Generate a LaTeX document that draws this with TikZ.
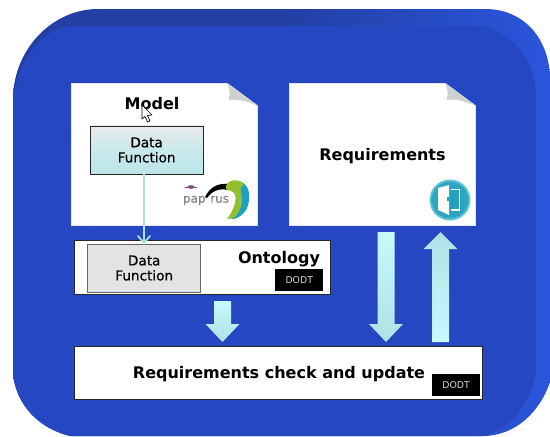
\documentclass[tikz,border=0pt]{standalone}
\usepackage{fontspec}
\setmainfont{DejaVu Sans}
\newfontfamily\semibold[FakeBold=0.5]{DejaVu Sans}
\usetikzlibrary{calc}
\definecolor{facecol}{HTML}{2647C2}
\definecolor{topcol}{HTML}{233FA3}
\definecolor{rightcol}{HTML}{2A56DC}
\definecolor{foldcol}{HTML}{CDD0D2}
\definecolor{paleA}{HTML}{C6FAFE}
\definecolor{paleB}{HTML}{B0E0E4}
\definecolor{birdgreen}{HTML}{93C02E}
\definecolor{birdblue}{HTML}{1E9FC4}
\definecolor{icondeep}{HTML}{1F9DBC}
\definecolor{iconrim}{HTML}{63C3D6}
\tikzset{
  paper/.style={rectangle,fill=white,draw=white!75!blue!40,line width=.5pt,inner sep=0,anchor=north west},
  plainbox/.style={rectangle,fill=white,draw=black!85,line width=.7pt,inner sep=0,anchor=north west},
  dfmodel/.style={rectangle,draw=black!85,line width=.7pt,top color=white!92!black,bottom color=paleB!85!white,middle color=paleB!70!white,inner sep=0,anchor=north west,align=center,font=\semibold\fontsize{10.2}{11.3}\selectfont,text=black},
  dfonto/.style={rectangle,draw=black!60,line width=.8pt,fill=black!11,inner sep=0,anchor=north west,align=center,font=\semibold\fontsize{10.2}{11.3}\selectfont},
  dodt/.style={rectangle,fill=black,text=white!85!black,inner sep=0,anchor=north west,font=\fontsize{7}{8}\selectfont},
  title/.style={font=\bfseries\fontsize{12}{14}\selectfont,text=black,inner sep=0},
  thinlink/.style={draw=paleB,line width=1.3pt,line cap=round},
  blockdown/.style={top color=paleA,bottom color=paleB,draw=none},
  blockup/.style={top color=paleB,bottom color=paleA,draw=none}
}
\newcommand{\foldcorner}[1]{%
  \fill[facecol] ($(#1.north east)+(-31.5,-1)$) -- ($(#1.north east)+(1,-1)$) -- ($(#1.north east)+(1,23)$) -- cycle;
  \fill[foldcol] ($(#1.north east)+(-31,0)$) -- ($(#1.north east)+(0,23)$) .. controls ($(#1.north east)+(-12,17)$) and ($(#1.north east)+(-22,16)$) .. ($(#1.north east)+(-29,17)$) .. controls ($(#1.north east)+(-27,10)$) and ($(#1.north east)+(-28,5)$) .. cycle;
}
\newcommand{\blockdownarrow}[2]{%
  \path[blockdown] ($(#1)+(-8.5,0)$) -- ($(#2)+(-8.5,-18)$) -- ($(#2)+(-17,-18)$) -- (#2) -- ($(#2)+(17,-18)$) -- ($(#2)+(8.5,-18)$) -- ($(#1)+(8.5,0)$) -- cycle;
}
\newcommand{\blockuparrow}[2]{%
  \path[blockup] ($(#1)+(-8.5,0)$) -- ($(#2)+(-8.5,17)$) -- ($(#2)+(-17,17)$) -- (#2) -- ($(#2)+(17,17)$) -- ($(#2)+(8.5,17)$) -- ($(#1)+(8.5,0)$) -- cycle;
}
\begin{document}
\begin{tikzpicture}[x=0.75pt,y=-0.75pt]
\useasboundingbox (0,0) rectangle (550,436);
% blue panel: bevel then face
\path[left color=topcol,right color=rightcol,middle color=topcol]
  (13,95) .. controls (16,45) and (55,9) .. (98,9) -- (485,9)
  .. controls (525,9) and (550,40) .. (550,80) -- (550,382)
  .. controls (540,412) and (515,436) .. (483,436) -- (70,436)
  .. controls (38,428) and (17,405) .. (13,375) -- cycle;
\fill[facecol]
  (13,95) .. controls (20,60) and (40,30) .. (70,26) -- (480,26)
  .. controls (510,30) and (536,60) .. (536,95) -- (536,372)
  .. controls (530,405) and (510,430) .. (483,436) -- (70,436)
  .. controls (38,428) and (17,405) .. (13,375) -- cycle;

% documents
\node[paper,minimum width=139.5pt,minimum height=106.5pt] (model) at (71,83) {};
\foldcorner{model}
\node[paper,minimum width=139.5pt,minimum height=106.5pt] (req) at (289,83) {};
\foldcorner{req}
\node[title] (modellabel) at (152,104) {Model};
\node[title] (reqlabel) at (382.5,156) {Requirements};

% ontology
\node[plainbox,minimum width=192pt,minimum height=40.5pt] (onto) at (73.5,239.5) {};
\node[title] (ontolabel) at (279,259) {Ontology};
\node[dodt,minimum width=36pt,minimum height=16.5pt] (dodta) at (275,269) {DODT};
\node[dfonto,minimum width=85pt,minimum height=36pt] (dfb) at (87,243.5) {Data\\Function};

% data function of the model and its link
\node[dfmodel,minimum width=85pt,minimum height=36pt] (dfa) at (89.5,125.5) {Data\\Function};
\draw[thinlink] (dfa.south -| 144,174) -- (144,242);
\draw[thinlink] (138,236) -- (144,243) -- (150,236);

% check and update
\node[plainbox,minimum width=306pt,minimum height=40pt] (check) at (74,345.5) {};
\node[title,font=\bfseries\fontsize{12}{14}\selectfont] (checklabel) at (279,374) {Requirements check and update};
\node[dodt,minimum width=36.5pt,minimum height=16pt] (dodtb) at (431.5,374) {DODT};

% block arrows
\coordinate (a1s) at (222.5,301); \coordinate (a1e) at (222.5,342);
\coordinate (a2s) at (386,232);   \coordinate (a2e) at (386,342);
\coordinate (a3s) at (440.5,342); \coordinate (a3e) at (440.5,232);
\blockdownarrow{a1s}{a1e}
\blockdownarrow{a2s}{a2e}
\blockuparrow{a3s}{a3e}

% cursor
\draw[fill=white,draw=black,line width=.5pt,line join=round]
  (142,105) -- (142,119) -- (145,116.5) -- (147.5,122) -- (150,121) -- (147.5,115.5) -- (152,115) -- cycle;

% papyrus logo
\fill[violet!45!gray] (191,187) ellipse (3.5 and 1.8);
\draw[violet!40!gray,line width=.3pt] (185,187) -- (197,187);
\node[inner sep=0,text=black!48,font=\semibold\fontsize{9}{10}\selectfont] (paptext) at (206,200.5) {pap\hspace{3.5pt}rus};
\fill[black] (205,197) .. controls (210,187) and (218,183) .. (228,184) -- (228,190) .. controls (219,188) and (212,191) .. (207,198) -- cycle;
\fill[birdblue] (238,181) .. controls (246,182) and (250,190) .. (249,198) .. controls (249,208) and (244,216) .. (234,219) -- (228,218) .. controls (238,210) and (243,196) .. (238,181) -- cycle;
\fill[birdgreen] (226,186) .. controls (228,179) and (240,178) .. (244,185) .. controls (241,186) and (240,189) .. (241,193) .. controls (244,202) and (240,212) .. (234,218) -- (227,219) .. controls (234,210) and (238,198) .. (234,193) .. controls (231,190) and (228,191) .. (226,189) -- cycle;

% requirements tool icon
\fill[iconrim] (450,200) circle (20.5);
\shade[inner color=icondeep,outer color=icondeep!75!iconrim] (450,200) circle (18.5);
\fill[white] (438,188) -- (449,185) -- (449,215) -- (438,210) -- cycle;
\draw[white,line width=1pt] (451,189.5) -- (459.5,189.5) -- (459.5,210) -- (451,210);
\fill[icondeep] (447,197) rectangle (448.5,201);
\end{tikzpicture}
\end{document}
